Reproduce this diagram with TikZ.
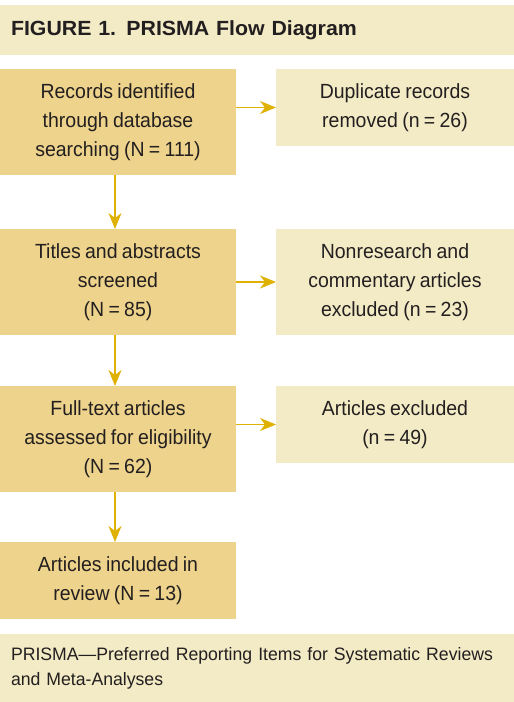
\documentclass[tikz,border=0pt]{standalone}
\usepackage{xcolor}
\usepackage{fontspec}
\setmainfont{Liberation Sans}
\newfontfamily\boxfont[FakeStretch=0.95,WordSpace=0.8]{Liberation Sans}
\newfontfamily\notefont[FakeStretch=0.98,WordSpace=0.75]{Liberation Sans}
\newfontfamily\headfont[FakeStretch=1.04]{Liberation Sans}
\usepackage{tikz}
\usetikzlibrary{arrows.meta,positioning}

\definecolor{boxdark}{HTML}{EDD38B}
\definecolor{boxlight}{HTML}{F3EBC5}
\definecolor{arrowgold}{HTML}{DFB103}
\definecolor{inktext}{HTML}{231F20}

\begin{document}
\begin{tikzpicture}[
    every node/.style={inner sep=0pt, outer sep=0pt, text=inktext},
    mainbox/.style={rectangle, fill=boxdark, minimum width=236pt, minimum height=106pt, align=center,
        font=\boxfont\fontsize{20.5pt}{29pt}\selectfont},
    sidebox/.style={rectangle, fill=boxlight, minimum width=238pt, minimum height=77pt, align=center,
        font=\boxfont\fontsize{20.5pt}{29pt}\selectfont},
    bar/.style={rectangle, fill=boxlight, text width=492pt, inner xsep=11pt, align=left},
    arrow/.style={-{Stealth[length=16pt,width=13pt,inset=5pt]}, draw=arrowgold, fill=arrowgold, line width=1.3pt}
]
    \useasboundingbox (0,0) rectangle (514pt,-702pt);

    \node[bar, minimum height=50pt, anchor=north west, font=\headfont\bfseries\fontsize{20.5pt}{24pt}\selectfont]
        (title) at (0,-5pt) {FIGURE 1. PRISMA Flow Diagram};

    \node[mainbox, below=14pt of title.south west, anchor=north west] (records) {Records identified\\through database\\searching (N = 111)};
    \node[mainbox, below=54pt of records] (screened) {Titles and abstracts\\screened\\(N = 85)};
    \node[mainbox, below=51pt of screened] (fulltext) {Full-text articles\\assessed for eligibility\\(N = 62)};
    \node[mainbox, minimum height=77pt, below=50pt of fulltext] (included) {Articles included in\\review (N = 13)};

    \node[sidebox, right=40pt of records.north east, anchor=north west] (duplicates) {Duplicate records\\removed (n = 26)};
    \node[sidebox, minimum height=106pt, right=40pt of screened.north east, anchor=north west] (nonresearch) {Nonresearch and\\commentary articles\\excluded (n = 23)};
    \node[sidebox, right=40pt of fulltext.north east, anchor=north west] (excluded) {Articles excluded\\(n = 49)};

    \node[bar, minimum height=68pt, below=15pt of included.south west, anchor=north west,
        font=\notefont\fontsize{18pt}{25pt}\selectfont] (footer)
        {PRISMA—Preferred Reporting Items for Systematic Reviews\\and Meta-Analyses};

    % flow down the left column
    \draw[arrow] ([xshift=-3pt]records.south) -- ([xshift=-3pt]screened.north);
    \draw[arrow] ([xshift=-3pt]screened.south) -- ([xshift=-3pt]fulltext.north);
    \draw[arrow] ([xshift=-3pt]fulltext.south) -- ([xshift=-3pt]included.north);

    % exclusions to the right
    \draw[arrow] (records.east |- duplicates.west) -- (duplicates.west);
    \draw[arrow] (screened) -- (nonresearch);
    \draw[arrow] (fulltext.east |- excluded.west) -- (excluded.west);
\end{tikzpicture}
\end{document}
